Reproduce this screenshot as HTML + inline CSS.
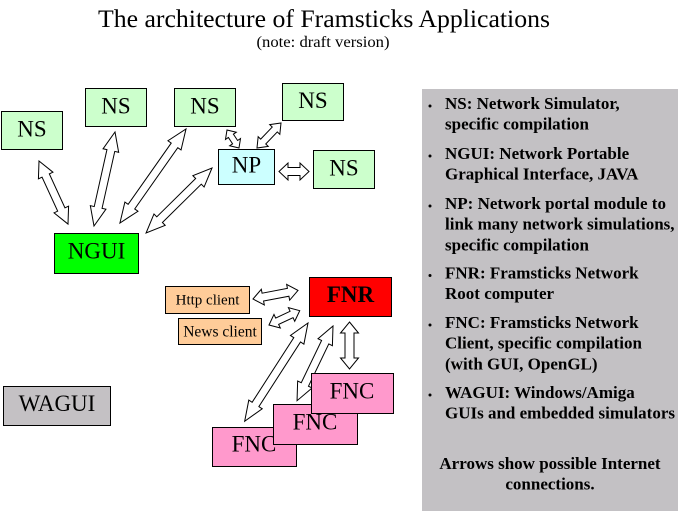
<!DOCTYPE html>
<html>
<head>
<meta charset="utf-8">
<style>
html,body{margin:0;padding:0;background:#fff;}
svg{display:block;}
text{font-family:"Liberation Serif","Times New Roman",serif;fill:#000;}
.lbl{font-size:23px;text-anchor:middle;}
.side{font-size:17px;font-weight:bold;}
</style>
</head>
<body>
<svg width="678" height="511" viewBox="0 0 678 511" xmlns="http://www.w3.org/2000/svg">
<rect x="0" y="0" width="678" height="511" fill="#fff"/>

<!-- Title -->
<text x="324" y="27" font-size="25.5" text-anchor="middle" textLength="452" lengthAdjust="spacingAndGlyphs">The architecture of Framsticks Applications</text>
<text x="323" y="47" font-size="16" text-anchor="middle" textLength="133" lengthAdjust="spacingAndGlyphs">(note: draft version)</text>

<!-- Right panel -->
<rect x="422" y="89" width="256" height="422" fill="#c3c1c4"/>
<g class="side">
  <circle cx="430" cy="106" r="1.5" fill="#000"/>
  <text class="side" x="445" y="109">NS: Network Simulator,</text>
  <text class="side" x="445" y="129.7">specific compilation</text>

  <circle cx="430" cy="156" r="1.5" fill="#000"/>
  <text class="side" x="445" y="159">NGUI: Network Portable</text>
  <text class="side" x="445" y="179.7">Graphical Interface, JAVA</text>

  <circle cx="430" cy="206" r="1.5" fill="#000"/>
  <text class="side" x="445" y="209">NP: Network portal module to</text>
  <text class="side" x="445" y="229.7">link many network simulations,</text>
  <text class="side" x="445" y="250.4">specific compilation</text>

  <circle cx="430" cy="275.5" r="1.5" fill="#000"/>
  <text class="side" x="445" y="278.5">FNR: Framsticks Network</text>
  <text class="side" x="445" y="299.2">Root computer</text>

  <circle cx="430" cy="325" r="1.5" fill="#000"/>
  <text class="side" x="445" y="328">FNC: Framsticks Network</text>
  <text class="side" x="445" y="348.7">Client, specific compilation</text>
  <text class="side" x="445" y="369.4">(with GUI, OpenGL)</text>

  <circle cx="430" cy="395" r="1.5" fill="#000"/>
  <text class="side" x="445" y="398">WAGUI: Windows/Amiga</text>
  <text class="side" x="445" y="418.7">GUIs and embedded simulators</text>

  <text class="side" x="550" y="469" text-anchor="middle">Arrows show possible Internet</text>
  <text class="side" x="550" y="489.7" text-anchor="middle">connections.</text>
</g>

<!-- Arrows -->
<g fill="#fff" stroke="#000" stroke-width="1" stroke-linejoin="miter">
  <polygon transform="translate(39,161) rotate(65.3)" points="0,0 16,-8 16,-4 53.4,-4 53.4,-8 69.4,0 53.4,8 53.4,4 16,4 16,8"/>
  <polygon transform="translate(115,132) rotate(102.6)" points="0,0 19,-8 19,-4 77.3,-4 77.3,-8 96.3,0 77.3,8 77.3,4 19,4 19,8"/>
  <polygon transform="translate(186,129) rotate(125.1)" points="0,0 20,-8 20,-4 94.9,-4 94.9,-8 114.9,0 94.9,8 94.9,4 20,4 20,8"/>
  <polygon transform="translate(212,168) rotate(135.4)" points="0,0 19,-8 19,-4 73.6,-4 73.6,-8 92.6,0 73.6,8 73.6,4 19,4 19,8"/>
  <polygon transform="translate(227,130) rotate(56.3)" points="0,0 7,-6.5 7,-3 14.6,-3 14.6,-6.5 21.6,0 14.6,6.5 14.6,3 7,3 7,6.5"/>
  <polygon transform="translate(281,123) rotate(133.8)" points="0,0 9,-7 9,-3.5 25.7,-3.5 25.7,-7 34.7,0 25.7,7 25.7,3.5 9,3.5 9,7"/>
  <polygon transform="translate(279,171.5)" points="0,0 9,-8.5 9,-4 21,-4 21,-8.5 30,0 21,8.5 21,4 9,4 9,8.5"/>
  <polygon transform="translate(253,299) rotate(-10.8)" points="0,0 10,-8 10,-4 35.8,-4 35.8,-8 45.8,0 35.8,8 35.8,4 10,4 10,8"/>
  <polygon transform="translate(269,325) rotate(-25)" points="0,0 9,-7.5 9,-3.5 24.9,-3.5 24.9,-7.5 33.9,0 24.9,7.5 24.9,3.5 9,3.5 9,7.5"/>
  <polygon transform="translate(308,323) rotate(122.8)" points="0,0 20,-8 20,-4 96.9,-4 96.9,-8 116.9,0 96.9,8 96.9,4 20,4 20,8"/>
  <polygon transform="translate(333,326) rotate(115.7)" points="0,0 18,-8 18,-4 64.9,-4 64.9,-8 82.9,0 64.9,8 64.9,4 18,4 18,8"/>
  <polygon transform="translate(349.5,322) rotate(90)" points="0,0 11,-9 11,-4.5 36,-4.5 36,-9 47,0 36,9 36,4.5 11,4.5 11,9"/>
</g>

<!-- Boxes -->
<g stroke="#000" stroke-width="1">
  <rect x="1.5" y="111.5" width="61" height="38" fill="#ccffcc"/>
  <rect x="85.5" y="88.5" width="61" height="38" fill="#ccffcc"/>
  <rect x="174.5" y="88.5" width="61" height="38" fill="#ccffcc"/>
  <rect x="282.5" y="83.5" width="61" height="37" fill="#ccffcc"/>
  <rect x="218.5" y="149.5" width="56" height="35" fill="#ccffff"/>
  <rect x="313.5" y="150.5" width="61" height="38" fill="#ccffcc"/>
  <rect x="54.5" y="233.5" width="84" height="40" fill="#00ff00"/>
  <rect x="309.5" y="277.5" width="82" height="39" fill="#ff0000"/>
  <rect x="165.5" y="286.5" width="84" height="27" fill="#ffcc99"/>
  <rect x="178.5" y="318.5" width="83" height="26" fill="#ffcc99"/>
  <rect x="3.5" y="386.5" width="107" height="39" fill="#c4c1c4"/>
</g>

<!-- Labels for boxes above -->
<text class="lbl" x="32" y="136.5">NS</text>
<text class="lbl" x="116" y="113.5">NS</text>
<text class="lbl" x="205" y="113.5">NS</text>
<text class="lbl" x="313" y="108">NS</text>
<text class="lbl" x="246.5" y="172.5">NP</text>
<text class="lbl" x="344" y="175.5">NS</text>
<text class="lbl" x="96.5" y="258.5">NGUI</text>
<text class="lbl" x="350.5" y="302" font-weight="bold">FNR</text>
<text x="207.5" y="304.5" font-size="15" text-anchor="middle">Http client</text>
<text x="220" y="336.5" font-size="15.5" text-anchor="middle">News client</text>
<text class="lbl" x="57" y="411" font-size="22">WAGUI</text>

<!-- FNC stack: front, middle, top -->
<rect x="212.5" y="427.5" width="84" height="39" fill="#ff99cc" stroke="#000" stroke-width="1"/>
<text class="lbl" x="254" y="451.5">FNC</text>
<rect x="273.5" y="404.5" width="84" height="40" fill="#ff99cc" stroke="#000" stroke-width="1"/>
<text class="lbl" x="315" y="429.5">FNC</text>
<rect x="311.5" y="373.5" width="82" height="40" fill="#ff99cc" stroke="#000" stroke-width="1"/>
<text class="lbl" x="352" y="398.5">FNC</text>
</svg>
</body>
</html>
